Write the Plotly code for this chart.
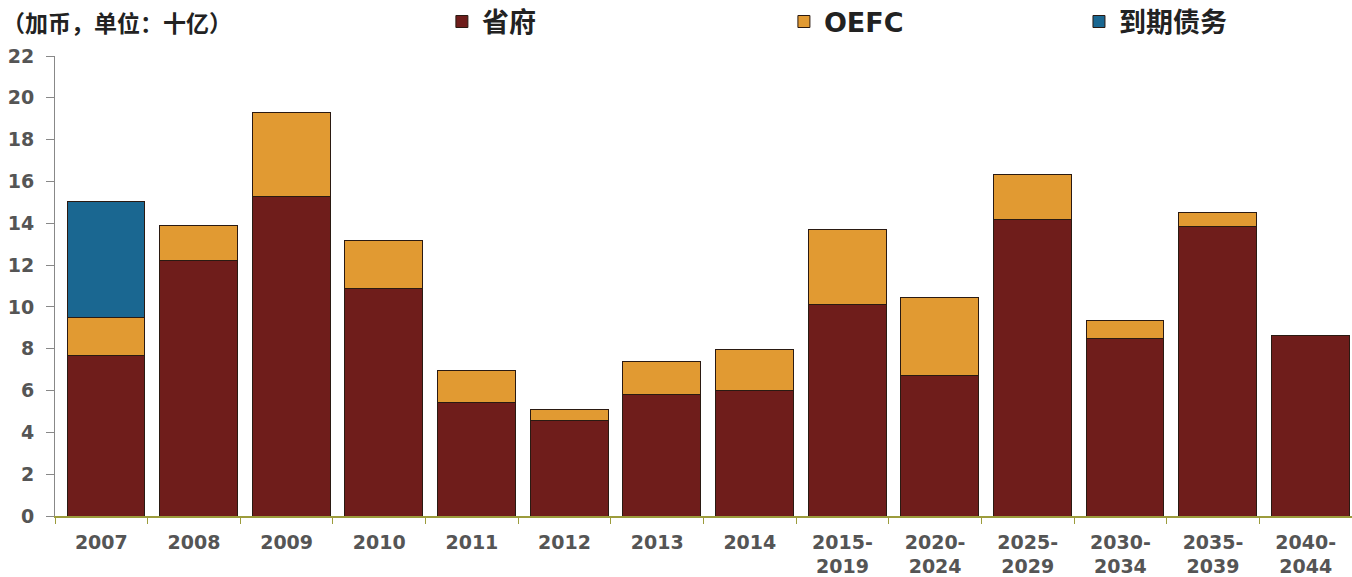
import plotly.graph_objects as go

categories = ["2007", "2008", "2009", "2010", "2011", "2012", "2013", "2014",
              "2015-<br>2019", "2020-<br>2024", "2025-<br>2029", "2030-<br>2034",
              "2035-<br>2039", "2040-<br>2044"]
provincial = [7.7, 12.2, 15.26, 10.86, 5.41, 4.55, 5.79, 5.98, 10.1, 6.7, 14.16, 8.47, 13.83, 8.61]
oefc = [1.77, 1.68, 4.02, 2.3, 1.53, 0.52, 1.58, 1.96, 3.58, 3.73, 2.16, 0.86, 0.67, 0.0]
maturing = [5.55, 0, 0, 0, 0, 0, 0, 0, 0, 0, 0, 0, 0, 0]
y_ticks = [0, 2, 4, 6, 8, 10, 12, 14, 16, 18, 20, 22]

line = dict(color="#2a1a12", width=1)
bar_style = dict(width=0.84, offset=-0.37)
fig = go.Figure()
fig.add_bar(x=categories, y=provincial, name="省府",
            marker=dict(color="#6f1d1b", line=line), legend="legend", **bar_style)
fig.add_bar(x=categories, y=oefc, name="OEFC",
            marker=dict(color="#e19a32", line=line), legend="legend2", **bar_style)
fig.add_bar(x=categories, y=maturing, name="到期债务",
            marker=dict(color="#1a6791", line=line), legend="legend3", **bar_style)

legend_common = dict(orientation="h", yanchor="middle", y=1.074, xanchor="left",
                     font=dict(family="DejaVu Sans, Noto Sans CJK SC", size=27,
                               color="#222", weight="bold"),
                     bgcolor="rgba(0,0,0,0)", itemwidth=30)
tick_font = dict(family="DejaVu Sans", size=19, color="#555", weight="bold")
fig.update_layout(
    barmode="stack",
    width=1352, height=577,
    margin=dict(l=55, r=0, t=56, b=61, autoexpand=False),
    plot_bgcolor="white", paper_bgcolor="white",
    showlegend=True,
    legend=dict(x=0.2983, **legend_common),
    legend2=dict(x=0.562, **legend_common),
    legend3=dict(x=0.7895, **legend_common),
    xaxis=dict(showline=True, linecolor="#9c9c3c", linewidth=1.5, ticks="outside",
               tickson="boundaries", ticklen=6, tickcolor="#9c9c3c", automargin=False,
               ticklabelstandoff=8, tickfont=tick_font, fixedrange=True),
    yaxis=dict(range=[0, 22], tickvals=y_ticks, showline=True, linecolor="#888",
               ticks="outside", ticklen=8, tickcolor="#888", showgrid=False, zeroline=False,
               automargin=False, ticklabelstandoff=8, tickfont=tick_font),
    annotations=[dict(text="（加币，单位：十亿）", xref="paper", yref="paper",
                      x=-0.0424, y=1.074, xanchor="left", yanchor="middle", showarrow=False,
                      font=dict(family="Noto Sans CJK SC", size=23, color="#222",
                                weight="bold"))],
)
fig.write_html("out.html", post_script="document.body.style.margin='0px';",
               config={"displayModeBar": False})
